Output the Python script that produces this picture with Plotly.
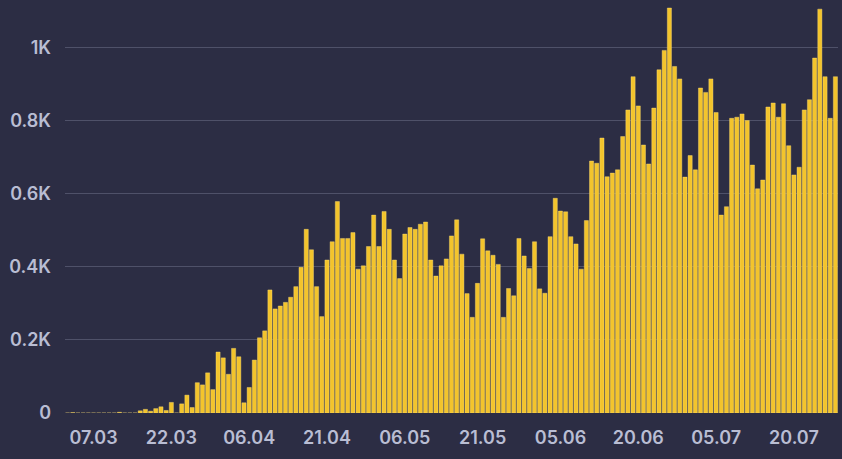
import pandas as pd
import plotly.graph_objects as go

start_date = "2020-03-02"
values = [
    0, 1, 0, 0, 0, 0, 0, 0, 0, 0,
    2, 0, 0, 0, 6, 10, 5, 12, 17, 7,
    29, 0, 25, 49, 15, 83, 77, 110, 64, 167,
    151, 106, 177, 154, 28, 70, 145, 206, 225, 337,
    285, 293, 303, 317, 346, 399, 503, 447, 346, 264,
    419, 469, 579, 478, 478, 494, 394, 403, 456, 542,
    456, 552, 503, 419, 368, 490, 508, 503, 517, 523,
    419, 375, 403, 422, 485, 529, 435, 327, 262, 355,
    477, 444, 432, 407, 262, 341, 321, 478, 430, 396,
    469, 340, 328, 483, 588, 553, 551, 483, 463, 394,
    527, 690, 684, 753, 647, 657, 666, 757, 830, 921,
    841, 734, 682, 835, 940, 993, 1109, 949, 915, 646,
    705, 666, 890, 878, 915, 823, 542, 565, 807, 810,
    819, 801, 679, 614, 638, 838, 849, 810, 847, 732,
    652, 673, 830, 858, 972, 1106, 921, 807, 921,
]
dates = pd.date_range(start_date, periods=len(values), freq="D")

y_tick_vals = [0, 200, 400, 600, 800, 1000]
y_tick_text = ["0", "0.2K", "0.4K", "0.6K", "0.8K", "1K"]
x_tick0 = "2020-03-07"

BG = "#2c2d44"
GRID = "#4f5169"
TXT = "#b9bdd3"
BAR = "#f3c42c"

fig = go.Figure(
    go.Bar(
        x=dates,
        y=values,
        marker=dict(color=BAR, line=dict(color="#ffe07a", width=0.4)),
        hoverinfo="x+y",
    )
)

fig.update_layout(
    width=842,
    height=459,
    margin=dict(l=65, r=4, t=0, b=46),
    paper_bgcolor=BG,
    plot_bgcolor=BG,
    bargap=0.2,
    showlegend=False,
    font=dict(family="Inter, Roboto, sans-serif", size=18, color=TXT, weight=600),
)

fig.update_xaxes(
    type="date",
    tick0=x_tick0,
    dtick=15 * 86400000,
    tickformat="%d.%m",
    showgrid=False,
    zeroline=False,
    showline=False,
    ticks="",
    ticklabelstandoff=12,
    tickfont=dict(size=18, color=TXT, weight=600),
)

fig.update_yaxes(
    range=[0, 1131],
    tickvals=y_tick_vals,
    ticktext=y_tick_text,
    showgrid=True,
    gridcolor=GRID,
    gridwidth=1,
    zeroline=False,
    showline=False,
    ticks="",
    ticklabelstandoff=13,
    tickfont=dict(size=18, color=TXT, weight=600),
)

fig.write_html(
    "out.html",
    config={"displayModeBar": False},
    post_script="document.body.style.margin='0';document.body.style.overflow='hidden';document.body.style.background='" + BG + "';",
)
